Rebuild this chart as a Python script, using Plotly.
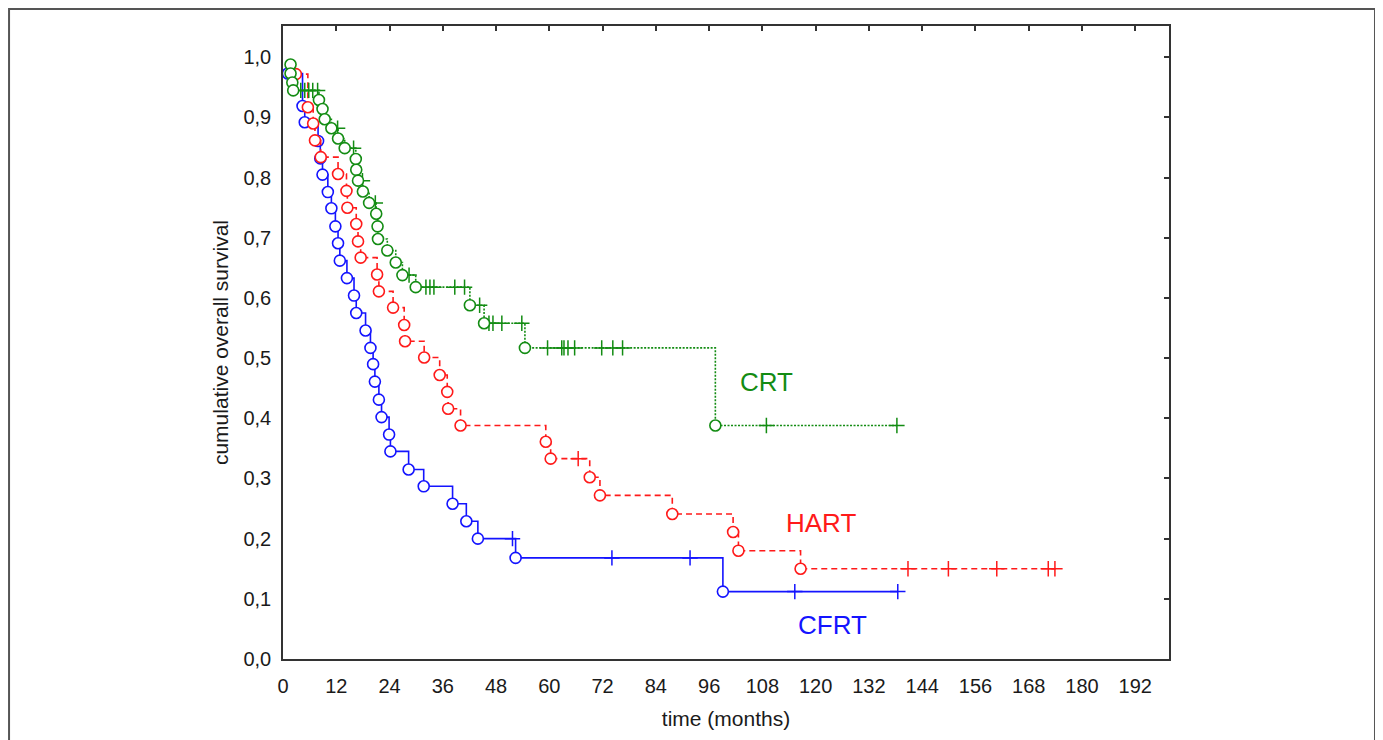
import plotly.graph_objects as go

# ---------------- data ----------------
x_tick_vals = list(range(0, 193, 12))
y_tick_vals = [0.0, 0.1, 0.2, 0.3, 0.4, 0.5, 0.6, 0.7, 0.8, 0.9, 1.0]
y_tick_text = ["0,0", "0,1", "0,2", "0,3", "0,4", "0,5", "0,6", "0,7", "0,8", "0,9", "1,0"]

group_names = ["CFRT", "HART", "CRT"]

# CFRT (blue) - events (circles) and censored (+)
cfrt_event_t = [1.1, 4.4, 4.9, 7.9, 8.4, 8.9, 10.1, 10.9, 11.8, 12.4, 12.8, 14.4, 16.0, 16.5,
                18.6, 19.7, 20.3, 20.7, 21.6, 22.2, 23.9, 24.2, 28.3, 31.7, 38.2, 41.3, 43.9,
                52.4, 99.1]
cfrt_event_s = [0.973, 0.919, 0.892, 0.861, 0.832, 0.805, 0.776, 0.749, 0.719, 0.691, 0.662,
                0.633, 0.604, 0.575, 0.546, 0.517, 0.490, 0.461, 0.431, 0.402, 0.373, 0.345,
                0.315, 0.287, 0.258, 0.229, 0.200, 0.168, 0.112]
cfrt_cens_t = [51.7, 74.1, 91.7, 115.3, 138.5]
cfrt_cens_s = [0.200, 0.168, 0.168, 0.112, 0.112]

# HART (red)
hart_event_t = [2.9, 5.6, 6.8, 7.2, 8.5, 12.4, 14.3, 14.5, 16.5, 16.9, 17.5, 21.2, 21.6, 24.8,
                27.3, 27.5, 31.8, 35.3, 37.0, 37.2, 40.0, 59.2, 60.3, 69.1, 71.4, 87.7, 101.4,
                102.6, 116.6]
hart_event_s = [0.972, 0.917, 0.890, 0.862, 0.834, 0.806, 0.778, 0.750, 0.723, 0.694, 0.667,
                0.639, 0.611, 0.584, 0.555, 0.528, 0.501, 0.472, 0.444, 0.416, 0.388, 0.361,
                0.333, 0.302, 0.272, 0.241, 0.211, 0.180, 0.150]
hart_cens_t = [66.5, 140.8, 149.9, 160.8, 172.4, 173.9]
hart_cens_s = [0.333, 0.150, 0.150, 0.150, 0.150, 0.150]

# CRT (green)
crt_event_t = [1.7, 1.7, 2.1, 2.3, 8.1, 8.9, 9.4, 10.9, 12.4, 13.9, 16.4, 16.5, 16.9, 18.0,
               19.4, 21.0, 21.3, 21.4, 23.5, 25.4, 26.9, 29.9, 42.1, 45.3, 54.5, 97.4]
crt_event_s = [0.988, 0.973, 0.958, 0.945, 0.929, 0.914, 0.897, 0.882, 0.865, 0.849, 0.831,
               0.813, 0.795, 0.777, 0.758, 0.740, 0.719, 0.698, 0.679, 0.659, 0.638, 0.618,
               0.588, 0.558, 0.517, 0.388]
crt_cens_t = [4.0, 4.9, 5.8, 6.7, 7.8, 12.3, 15.9, 17.9, 20.8, 28.4, 32.2, 33.1, 34.0, 38.7,
              40.9, 44.3, 46.4, 47.3, 49.3, 53.8, 59.6, 62.8, 63.3, 64.2, 65.7, 71.8, 74.3,
              76.5, 108.9, 138.3]
crt_cens_s = [0.945, 0.945, 0.945, 0.945, 0.945, 0.882, 0.849, 0.795, 0.758, 0.638, 0.618,
              0.618, 0.618, 0.618, 0.618, 0.588, 0.558, 0.558, 0.558, 0.558, 0.517, 0.517,
              0.517, 0.517, 0.517, 0.517, 0.517, 0.517, 0.388, 0.388]

# ---------------- styling ----------------
FONT = "Arial, 'Liberation Sans', sans-serif"
BLUE = "#1414ff"
RED = "#ff1a1a"
GREEN = "#138c13"

groups = [
    dict(name="CFRT", et=cfrt_event_t, es=cfrt_event_s, ct=cfrt_cens_t, cs=cfrt_cens_s,
         color=BLUE, dash="solid", label_x=123.9, label_y=0.057),
    dict(name="HART", et=hart_event_t, es=hart_event_s, ct=hart_cens_t, cs=hart_cens_s,
         color=RED, dash="6px,4px", label_x=121.3, label_y=0.226),
    dict(name="CRT", et=crt_event_t, es=crt_event_s, ct=crt_cens_t, cs=crt_cens_s,
         color=GREEN, dash="2px,1.5px", label_x=108.9, label_y=0.461),
]

fig = go.Figure()

for g in groups:
    pts = [(t, s, 0) for t, s in zip(g["et"], g["es"])] + \
          [(t, s, 1) for t, s in zip(g["ct"], g["cs"])]
    pts.sort(key=lambda p: (p[0], -p[1]))
    fig.add_trace(go.Scatter(
        x=[p[0] for p in pts], y=[p[1] for p in pts], mode="lines",
        line=dict(color=g["color"], width=1.6, dash=g["dash"], shape="hv"),
        showlegend=False, hoverinfo="skip"))
    fig.add_trace(go.Scatter(
        x=g["ct"], y=g["cs"], mode="markers",
        marker=dict(symbol="cross-thin-open", size=11, color=g["color"],
                    line=dict(color=g["color"], width=1.5)),
        showlegend=False, name=g["name"] + " censored"))
    fig.add_trace(go.Scatter(
        x=g["et"], y=g["es"], mode="markers",
        marker=dict(symbol="circle", size=11, color="white",
                    line=dict(color=g["color"], width=1.6)),
        showlegend=False, name=g["name"]))
    fig.add_annotation(x=g["label_x"], y=g["label_y"], xref="x", yref="y",
                       text=g["name"], showarrow=False,
                       font=dict(family=FONT, size=26, color=g["color"]))

# dummy trace for the mirrored (top/right) axes
fig.add_trace(go.Scatter(x=[None], y=[None], xaxis="x2", yaxis="y2",
                         showlegend=False, hoverinfo="skip"))

AX = "#333333"
fig.update_layout(
    width=1375, height=732,
    margin=dict(l=275, r=214, t=18, b=81),
    paper_bgcolor="white", plot_bgcolor="white",
    font=dict(family=FONT, size=20, color="#1a1a1a"),
    xaxis=dict(range=[0, 199.6], tickvals=x_tick_vals, showgrid=False, zeroline=False,
               showline=True, linecolor=AX, linewidth=1.5, ticks="",
               tickfont=dict(size=20), ticklabelstandoff=8,
               title=dict(text="time (months)", font=dict(size=21), standoff=16)),
    yaxis=dict(range=[0, 1.052], tickvals=y_tick_vals, ticktext=y_tick_text,
               showgrid=False, zeroline=False, showline=True, linecolor=AX, linewidth=1.5,
               ticks="", tickfont=dict(size=20), ticklabelstandoff=6,
               title=dict(text="cumulative overall survival", font=dict(size=21), standoff=9)),
    xaxis2=dict(overlaying="x", matches="x", side="top", tickvals=x_tick_vals,
                showticklabels=False, ticks="inside", ticklen=5, tickcolor=AX, tickwidth=1.5,
                showline=True, linecolor=AX, linewidth=1.5, showgrid=False, zeroline=False),
    yaxis2=dict(overlaying="y", matches="y", side="right", tickvals=y_tick_vals,
                showticklabels=False, ticks="inside", ticklen=5, tickcolor=AX, tickwidth=1.5,
                showline=True, linecolor=AX, linewidth=1.5, showgrid=False, zeroline=False),
    shapes=[dict(type="rect", xref="paper", yref="paper",
                 x0=-0.3092, x1=1.2325, y0=-0.3, y1=1.0268,
                 line=dict(color="#555555", width=2), fillcolor="rgba(0,0,0,0)", layer="below")],
)

fig.write_html("out.html")
